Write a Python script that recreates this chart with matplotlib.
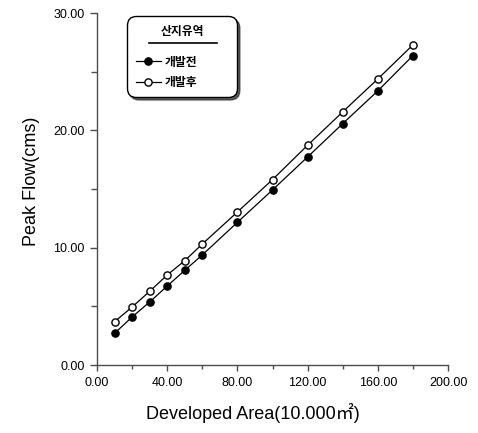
import matplotlib
matplotlib.use("Agg")
import matplotlib.pyplot as plt
from matplotlib.ticker import MultipleLocator, FormatStrFormatter
from matplotlib.lines import Line2D

area = [10, 20, 30, 40, 50, 60, 80, 100, 120, 140, 160, 180]
before = [2.70, 4.09, 5.37, 6.73, 8.07, 9.38, 12.16, 14.92, 17.73, 20.57, 23.36, 26.37]
after = [3.69, 4.94, 6.28, 7.67, 8.89, 10.31, 13.04, 15.80, 18.73, 21.57, 24.38, 27.28]
legend_title = "산지유역"
labels = ["개발전", "개발후"]

plt.rcParams['font.family'] = ['Liberation Sans', 'Noto Sans CJK KR', 'DejaVu Sans']

W, H = 478, 433
fig = plt.figure(figsize=(W/100, H/100), dpi=100)
ax = fig.add_axes([97/W, 1-365/H, 351/W, 352/H])

ax.plot(area, before, color='black', lw=0.9, marker='o', ms=5.2,
        mfc='black', mec='black', label=labels[0])
ax.plot(area, after, color='black', lw=0.9, marker='o', ms=5.2,
        mfc='white', mec='black', mew=1.0, label=labels[1])

ax.set_xlim(0, 200)
ax.set_ylim(0, 30)
ax.xaxis.set_major_locator(MultipleLocator(40))
ax.xaxis.set_minor_locator(MultipleLocator(20))
ax.yaxis.set_major_locator(MultipleLocator(10))
ax.yaxis.set_minor_locator(MultipleLocator(5))
ax.xaxis.set_major_formatter(FormatStrFormatter('%.2f'))
ax.yaxis.set_major_formatter(FormatStrFormatter('%.2f'))
for s in ['top', 'right']:
    ax.spines[s].set_visible(False)
axcol = '0.3'
for s in ['left', 'bottom']:
    ax.spines[s].set_linewidth(1.0)
    ax.spines[s].set_color(axcol)
ax.tick_params(axis='x', which='major', direction='out', length=4.5, width=1.0,
               color=axcol, labelsize=9, pad=4)
ax.tick_params(axis='x', which='minor', direction='out', length=3, width=1.0, color=axcol)
ax.tick_params(axis='y', which='major', direction='out', length=5, width=1.0,
               color=axcol, labelsize=9, pad=4)
ax.tick_params(axis='y', which='minor', direction='out', length=4, width=1.0, color=axcol)

ax.set_xlabel("Developed Area(10.000㎡)", fontsize=13)
ax.set_ylabel("Peak Flow(cms)", fontsize=13)
ax.xaxis.set_label_coords((253-97)/351, (365-403)/352)
ax.yaxis.set_label_coords((40-97)/351, (365-181)/352)

leg = ax.legend(title=legend_title, loc='upper left', mode='expand',
                bbox_to_anchor=(127/W, 1-95/H, 110/W, 79/H), bbox_transform=fig.transFigure,
                frameon=True, fancybox=True, edgecolor='black', framealpha=1,
                shadow={'color': '0.2', 'alpha': 0.8},
                prop={'family': ['Noto Sans CJK KR'], 'size': 8.5, 'weight': 'bold'},
                title_fontproperties={'family': ['Noto Sans CJK KR'], 'size': 8.5, 'weight': 'bold'},
                handlelength=2.2, handletextpad=0.3, borderpad=0.72, labelspacing=0.6,
                borderaxespad=0)
leg.get_frame().set_linewidth(1.0)
leg.get_frame().set_boxstyle('round,pad=0,rounding_size=0.8')
leg._legend_box.sep = 13

fig.add_artist(Line2D([149/W, 217/W], [1-42.7/H, 1-42.7/H],
                      transform=fig.transFigure, color='black', lw=1.2))

fig.savefig("out.png", dpi=100)
